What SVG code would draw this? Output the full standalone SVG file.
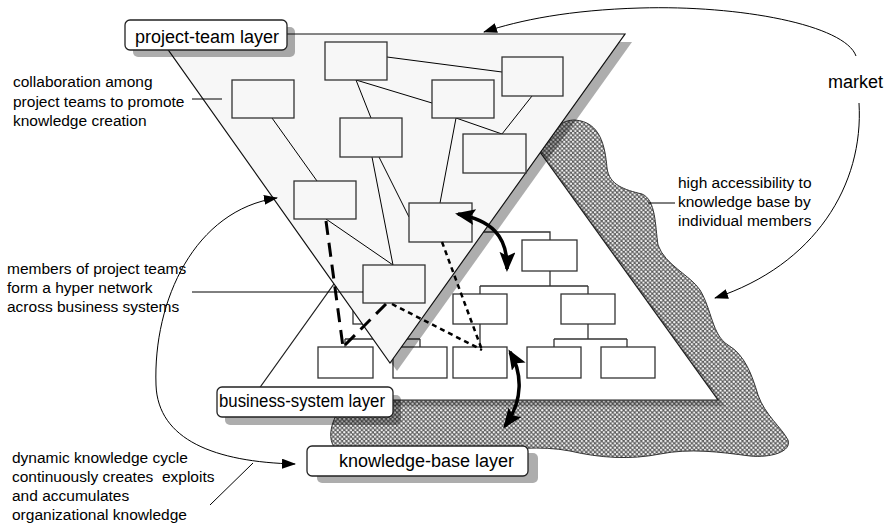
<svg xmlns="http://www.w3.org/2000/svg" width="886" height="528" viewBox="0 0 886 528">
<defs>
<pattern id="hatch" width="4.4" height="4.4" patternUnits="userSpaceOnUse">
<rect width="4.4" height="4.4" fill="#5e5e5e"/>
<circle cx="1.1" cy="1.1" r="1.15" fill="#f4f4f4"/>
<circle cx="3.3" cy="3.3" r="1.15" fill="#f4f4f4"/>
</pattern>
<marker id="thin" markerUnits="userSpaceOnUse" markerWidth="16" markerHeight="12" refX="13" refY="5" orient="auto-start-reverse"><path d="M0,0 L14,5 L0,10 z" fill="#000"/></marker>
<marker id="big" markerUnits="userSpaceOnUse" markerWidth="24" markerHeight="18" refX="17" refY="8" orient="auto-start-reverse"><path d="M0,0 L20,8 L0,16 L4,8 z" fill="#000"/></marker>
<style>
.t{font-family:"Liberation Sans",Arial,sans-serif;fill:#000}
.lbl{font-size:18px}
.note{font-size:15.5px}
.pbox{fill:#f7f7f7;stroke:#333;stroke-width:1.3}
.bbox{fill:#fff;stroke:#333;stroke-width:1.3}
.ln{stroke:#000;stroke-width:1;fill:none}
.org{stroke:#333;stroke-width:1.3;fill:none}
.lab{fill:#fff;stroke:#222;stroke-width:1.3}
.shd{fill:#000;fill-opacity:0.32}
.thick{stroke:#000;stroke-width:3.5;fill:none}
.dash{stroke:#000;stroke-width:3;fill:none;stroke-dasharray:14 8}
.dot{stroke:#000;stroke-width:2.5;fill:none;stroke-dasharray:5 4}
</style>
</defs>
<rect width="886" height="528" fill="#fff"/>

<g id="knowledge-base">
<path d="M575,120 C600,122 605,145 607,168 C609,185 625,190 642,194 C656,200 655,225 658,245 C665,265 690,275 700,290 C712,310 712,335 728,345 C745,355 752,375 758,395 C765,415 782,428 788,440 C792,452 770,458 750,456 C720,452 690,448 660,454 C630,460 600,458 570,451 C540,445 510,450 480,450 C420,452 360,452 335,448 C328,440 330,425 338,412 L360,395 L420,300 L540,145 C552,128 562,120 575,120 Z" fill="url(#hatch)" stroke="#333" stroke-width="1"/>
</g>

<g id="business-system">
<polygon class="shd" points="491,80 725,406 258,406" style="fill-opacity:0.22"/>
<polygon points="484,74 718,400 251,400" fill="#fff" stroke="#222" stroke-width="1.2"/>
<path class="org" d="M415,232 H550 V240 M550,271 V286 M480,286 H588 M480,286 V294 M588,286 V294 M480,324 V347 M380,324 V339 M345,339 H420 M345,339 V347 M420,339 V347 M588,324 V339 M554,339 H627 M554,339 V347 M627,339 V347"/>
<rect class="bbox" x="522" y="240" width="55" height="31"/>
<rect class="bbox" x="353" y="294" width="54" height="30"/>
<rect class="bbox" x="453" y="294" width="54" height="30"/>
<rect class="bbox" x="561" y="294" width="54" height="30"/>
<rect class="bbox" x="318" y="347" width="55" height="31"/>
<rect class="bbox" x="393" y="347" width="54" height="31"/>
<rect class="bbox" x="453" y="347" width="54" height="31"/>
<rect class="bbox" x="527" y="347" width="54" height="31"/>
<rect class="bbox" x="601" y="347" width="54" height="31"/>
</g>

<g id="project-team">
<polygon class="shd" points="164,42 632,42 397,371"/>
<polygon points="157,34 625,34 390,363" fill="#f7f7f7" stroke="#111" stroke-width="1.2"/>
<path class="ln" d="M272,118 L317,181 M387,57 L502,72 M356,80 L432,103 M356,80 L371,118 M532,96 L502,134 M456,118 L502,134 M456,118 L440,203 M372,157 L393,265 M379,157 L409,217 M326,219 L393,265"/>
<rect class="pbox" x="232" y="80" width="62" height="38"/>
<rect class="pbox" x="325" y="42" width="62" height="38"/>
<rect class="pbox" x="502" y="57" width="61" height="39"/>
<rect class="pbox" x="432" y="80" width="62" height="38"/>
<rect class="pbox" x="340" y="118" width="62" height="39"/>
<rect class="pbox" x="463" y="134" width="63" height="39"/>
<rect class="pbox" x="294" y="181" width="62" height="38"/>
<rect class="pbox" x="409" y="203" width="63" height="39"/>
<rect class="pbox" x="363" y="265" width="62" height="38"/>
</g>

<g id="connectors">
<path class="dash" d="M326,221 L343,347"/>
<path class="dash" d="M386,304 L343,347"/>
<path class="dot" d="M442,242 L482,350"/>
<path class="dot" d="M392,304 L482,350"/>
<path class="thick" d="M458,214 C490,220 508,235 507,269" marker-start="url(#big)" marker-end="url(#big)"/>
<path class="thick" d="M510,352 C522,372 524,400 505,426" marker-start="url(#big)" marker-end="url(#big)"/>
<path class="ln" stroke-width="1.3" d="M856,56 C845,25 740,5 640,8 C570,10 520,20 484,32" marker-end="url(#thin)"/>
<path class="ln" stroke-width="1.3" d="M859,103 C864,185 815,265 715,298" marker-end="url(#thin)"/>
<path class="ln" stroke-width="1.5" d="M277,198 C195,210 153,300 156,385 C158,440 215,462 295,464" marker-start="url(#thin)" marker-end="url(#thin)"/>
<path class="ln" d="M192,99 H222"/>
<path class="ln" d="M192,292 H363"/>
<path class="ln" d="M648,203 H675"/>
<path class="ln" d="M210,505 L253,463"/>
</g>

<g id="label-project-team">
<rect class="shd" x="133" y="27" width="162" height="30" rx="5"/>
<rect class="lab" x="125" y="20" width="162" height="30" rx="5"/>
<text class="t lbl" x="135" y="43">project-team layer</text>
</g>
<g id="label-business-system">
<rect class="shd" x="225" y="395" width="176" height="30" rx="5"/>
<rect class="lab" x="217" y="387" width="176" height="30" rx="5"/>
<text class="t lbl" x="219" y="407" textLength="166" lengthAdjust="spacingAndGlyphs">business-system layer</text>
</g>
<g id="label-knowledge-base">
<rect class="shd" x="317" y="453" width="221" height="30" rx="5"/>
<rect class="lab" x="307" y="446" width="221" height="30" rx="5"/>
<text class="t lbl" x="339" y="467">knowledge-base layer</text>
</g>

<g id="notes">
<text class="t lbl" x="828" y="88">market</text>
<text class="t note" x="13" y="87">collaboration among</text>
<text class="t note" x="13" y="107">project teams to promote</text>
<text class="t note" x="13" y="126">knowledge creation</text>
<text class="t note" x="7" y="274">members of project teams</text>
<text class="t note" x="7" y="293">form a hyper network</text>
<text class="t note" x="7" y="312">across business systems</text>
<text class="t note" x="678" y="188">high accessibility to</text>
<text class="t note" x="678" y="207">knowledge base by</text>
<text class="t note" x="678" y="226">individual members</text>
<text class="t note" x="12" y="463">dynamic knowledge cycle</text>
<text class="t note" x="12" y="482" xml:space="preserve">continuously creates  exploits</text>
<text class="t note" x="12" y="501">and accumulates</text>
<text class="t note" x="12" y="520">organizational knowledge</text>
</g>
</svg>
